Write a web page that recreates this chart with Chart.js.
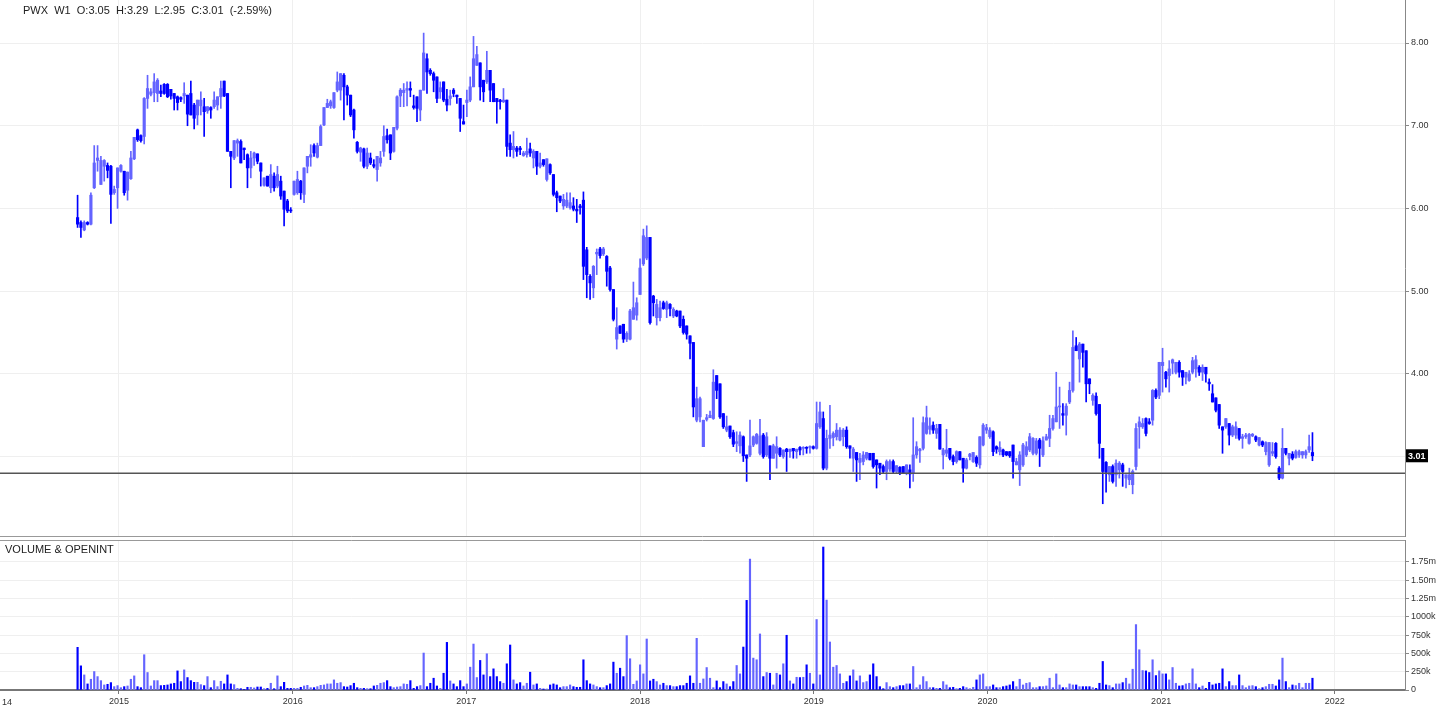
<!DOCTYPE html>
<html>
<head>
<meta charset="utf-8">
<script src="https://cdn.jsdelivr.net/npm/chart.js@4.4.0/dist/chart.umd.min.js"></script>
<style>
    body { margin: 0; background: #fff; }
    #wrap { position: relative; width: 1456px; height: 719px; overflow: hidden; }
    #price_chart { position: absolute; left: 0; top: 0; }
    #volume_chart { position: absolute; left: 0; top: 538px; }
    .pane_label { position: absolute; font: 11px "Liberation Sans", Arial, sans-serif; color: #222; white-space: pre; }
</style>
</head>
<body>
<div id="wrap">
    <canvas id="price_chart" width="1456" height="538"></canvas>
    <canvas id="volume_chart" width="1456" height="181"></canvas>
    <div class="pane_label" id="symbol_line" style="left:23px;top:4px;"></div>
    <div class="pane_label" id="volume_title" style="left:5px;top:543px;"></div>
</div>
<script>
// weekly candles, first bar is the week of 6 Oct 2014
const SYMBOL_LINE = 'PWX  W1  O:3.05  H:3.29  L:2.95  C:3.01  (-2.59%)';
const VOLUME_TITLE = 'VOLUME & OPENINT';
const FIRST_WEEK = '2014-10-06';

const OPEN = [
    5.89,5.83,5.74,5.83,5.81,6.25,6.58,6.29,6.51,6.52, 6.51,6.19,6.25,6.45,6.45,6.22,6.36,6.60,6.95,6.88,
    6.87,7.33,7.38,7.40,7.39,7.42,7.50,7.50,7.44,7.39, 7.35,7.34,7.36,7.37,7.39,7.25,7.13,7.24,7.23,7.18,
    7.22,7.23,7.25,7.35,7.54,7.39,6.69,6.61,6.79,6.81, 6.73,6.65,6.49,6.61,6.66,6.55,6.28,6.39,6.25,6.39,
    6.27,6.33,6.21,6.09,5.98,6.17,6.19,6.33,6.17,6.51, 6.62,6.76,6.62,6.76,7.01,7.22,7.24,7.22,7.43,7.43,
    7.61,7.47,7.37,7.19,6.80,6.68,6.72,6.51,6.61,6.53, 6.47,6.55,6.69,6.88,6.89,6.69,6.97,7.36,7.40,7.43,
    7.45,7.24,7.35,7.19,7.43,7.81,7.67,7.63,7.59,7.41, 7.53,7.32,7.33,7.43,7.37,7.33,7.05,7.28,7.31,7.47,
    7.73,7.76,7.55,7.53,7.67,7.51,7.33,7.31,7.29,7.31, 6.79,6.71,6.73,6.73,6.64,6.65,6.72,6.61,6.69,6.51,
    6.59,6.35,6.53,6.41,6.19,6.15,6.03,6.03,6.01,6.03, 5.99,6.03,6.10,5.50,5.18,5.04,5.45,5.51,5.45,5.42,
    5.28,5.02,4.42,4.58,4.60,4.42,4.42,4.66,4.71,4.96, 5.33,5.40,5.65,4.94,4.68,4.68,4.86,4.78,4.84,4.70,
    4.76,4.76,4.66,4.58,4.46,4.38,3.44,3.48,3.12,3.45, 3.47,3.46,3.98,3.88,3.52,3.32,3.37,3.29,3.16,3.13,
    3.24,3.02,3.02,3.14,3.16,3.04,3.26,3.02,3.13,2.98, 3.04,3.10,3.00,3.09,3.06,3.10,3.06,3.11,3.10,3.11,
    3.11,3.12,3.10,3.36,3.46,2.86,3.22,3.23,3.24,3.20, 3.24,3.32,3.13,2.98,3.05,2.93,2.94,2.98,3.04,3.04,
    2.96,2.92,2.88,2.82,2.85,2.94,2.82,2.87,2.88,2.80, 2.84,2.80,3.02,3.07,3.10,3.28,3.33,3.38,3.28,3.39,
    3.02,3.04,3.10,3.00,2.94,3.06,2.98,2.86,3.00,2.94, 2.99,2.90,3.14,3.32,3.24,3.30,3.12,3.06,3.08,3.06,
    3.06,3.14,2.90,2.84,2.90,3.02,3.08,3.04,3.04,3.20, 3.02,3.20,3.22,3.34,3.42,3.60,3.52,3.50,3.66,3.80,
    4.34,4.18,4.36,4.28,3.94,3.68,3.73,3.63,3.10,2.93, 2.78,2.88,2.78,2.84,2.90,2.74,2.72,2.66,2.88,3.36,
    3.36,3.46,3.42,3.44,3.80,3.74,4.10,4.02,3.98,4.13, 4.02,4.14,4.04,3.96,3.92,4.02,4.06,4.08,4.02,4.08,
    3.90,3.76,3.71,3.63,3.36,3.36,3.40,3.26,3.26,3.34, 3.22,3.24,3.16,3.25,3.24,3.14,3.18,3.06,2.90,3.04,
    3.16,2.86,2.74,3.10,2.98,3.03,2.99,3.02,3.02,3.02, 3.08,3.05
];
const HIGH = [
    6.16,5.85,5.85,5.84,6.19,6.76,6.76,6.63,6.59,6.55, 6.52,6.27,6.49,6.53,6.45,6.44,6.69,6.86,6.96,6.89,
    7.34,7.61,7.45,7.63,7.57,7.49,7.51,7.51,7.44,7.39, 7.36,7.35,7.52,7.37,7.54,7.27,7.31,7.41,7.33,7.23,
    7.23,7.41,7.35,7.54,7.54,7.39,6.69,6.82,6.84,6.83, 6.73,6.66,6.69,6.68,6.66,6.55,6.37,6.39,6.53,6.43,
    6.51,6.39,6.21,6.11,6.01,6.33,6.45,6.34,6.49,6.63, 6.77,6.78,6.79,7.01,7.22,7.32,7.31,7.40,7.65,7.63,
    7.63,7.49,7.37,7.20,6.81,6.74,6.73,6.73,6.67,6.59, 6.63,6.69,7.00,6.96,6.89,6.98,7.36,7.45,7.51,7.53,
    7.53,7.37,7.35,7.43,8.12,7.87,7.69,7.65,7.59,7.53, 7.53,7.44,7.43,7.45,7.37,7.33,7.25,7.43,7.59,8.08,
    7.96,7.76,7.55,7.90,7.67,7.51,7.33,7.32,7.45,7.31, 6.89,6.93,6.75,6.75,6.69,6.85,6.79,6.71,6.69,6.67,
    6.59,6.60,6.54,6.41,6.21,6.15,6.17,6.19,6.19,6.13, 6.11,6.05,6.20,5.53,5.20,5.31,5.51,5.53,5.53,5.43,
    5.30,5.02,4.80,4.58,4.60,4.51,4.78,5.11,4.92,5.39, 5.75,5.79,5.65,4.95,4.90,4.88,4.88,4.88,4.85,4.80,
    4.77,4.76,4.70,4.58,4.46,4.38,3.84,3.72,3.44,3.51, 3.55,4.05,3.98,3.88,3.52,3.49,3.37,3.32,3.30,3.30,
    3.25,3.02,3.44,3.25,3.28,3.45,3.28,3.29,3.13,3.15, 3.24,3.11,3.08,3.10,3.09,3.10,3.09,3.12,3.12,3.12,
    3.13,3.13,3.66,3.66,3.54,3.32,3.62,3.30,3.40,3.35, 3.34,3.36,3.13,3.11,3.05,3.04,3.06,3.05,3.04,3.04,
    2.96,2.92,2.90,2.96,2.96,2.96,2.89,2.88,2.88,2.90, 2.90,3.47,3.18,3.10,3.48,3.61,3.47,3.42,3.39,3.39,
    3.10,3.33,3.10,3.02,3.07,3.06,2.98,2.98,3.04,3.05, 3.01,3.24,3.40,3.39,3.35,3.31,3.13,3.18,3.09,3.06,
    3.06,3.14,2.98,3.06,3.16,3.18,3.28,3.23,3.22,3.22, 3.24,3.27,3.50,3.50,4.02,3.84,3.64,3.64,3.90,4.52,
    4.44,4.38,4.36,4.28,3.94,3.76,3.77,3.63,3.10,2.94, 2.88,2.90,2.96,2.94,2.92,2.78,2.86,2.84,3.40,3.48,
    3.46,3.47,3.46,3.81,3.82,4.14,4.31,4.03,4.16,4.18, 4.14,4.16,4.04,4.02,4.04,4.20,4.22,4.10,4.11,4.08,
    3.94,3.87,3.71,3.63,3.36,3.46,3.40,3.38,3.42,3.34, 3.27,3.28,3.28,3.28,3.25,3.23,3.19,3.18,3.17,3.17,
    3.17,2.88,3.34,3.10,3.04,3.06,3.08,3.08,3.06,3.08, 3.26,3.29
];
const LOW = [
    5.77,5.65,5.73,5.80,5.80,6.24,6.45,6.29,6.33,6.37, 5.82,6.17,6.00,6.44,6.16,6.10,6.35,6.59,6.81,6.80,
    6.78,7.21,7.36,7.29,7.29,7.35,7.38,7.34,7.32,7.19, 7.19,7.29,7.27,7.00,7.13,6.96,7.01,7.13,6.87,7.15,
    7.09,7.21,7.19,7.21,7.35,6.69,6.25,6.59,6.63,6.55, 6.59,6.25,6.37,6.52,6.54,6.27,6.27,6.27,6.19,6.21,
    6.25,6.11,5.79,5.95,5.95,6.16,6.17,6.11,6.07,6.43, 6.51,6.63,6.61,6.76,7.00,7.22,7.21,7.21,7.41,7.31,
    7.07,7.25,7.11,6.85,6.67,6.57,6.49,6.48,6.53,6.49, 6.33,6.51,6.63,6.79,6.59,6.68,6.95,7.23,7.23,7.24,
    7.35,7.20,7.05,7.06,7.43,7.39,7.61,7.41,7.28,7.33, 7.29,7.18,7.25,7.35,7.27,6.93,7.02,7.11,7.29,7.47,
    7.73,7.31,7.29,7.51,7.29,7.29,7.03,7.20,7.28,6.63, 6.63,6.61,6.63,6.65,6.63,6.62,6.63,6.49,6.41,6.49,
    6.51,6.33,6.41,6.15,5.96,6.07,5.99,6.01,5.99,5.97, 5.83,5.93,5.14,4.92,4.90,4.92,5.20,5.40,5.43,5.06,
    5.00,4.64,4.30,4.49,4.38,4.39,4.41,4.66,4.65,4.96, 5.31,5.38,4.60,4.70,4.59,4.64,4.78,4.68,4.70,4.68,
    4.69,4.56,4.48,4.42,4.18,3.48,3.42,3.42,3.12,3.43, 3.47,3.45,3.70,3.46,3.34,3.30,3.22,3.12,3.06,3.04,
    2.94,2.70,3.00,3.12,3.15,3.02,2.98,3.00,2.72,2.98, 2.86,3.00,2.98,2.82,2.99,2.98,2.98,3.02,3.02,3.04,
    3.04,3.09,3.09,3.34,2.84,2.84,3.10,3.13,3.20,3.19, 3.13,3.10,2.98,2.82,2.70,2.72,2.90,2.96,2.96,2.86,
    2.62,2.78,2.80,2.72,2.82,2.80,2.80,2.78,2.80,2.78, 2.62,2.70,2.98,2.93,3.08,3.27,3.27,3.28,3.22,3.09,
    2.85,3.00,2.96,2.90,2.92,2.96,2.69,2.85,2.96,2.93, 2.88,2.86,3.13,3.28,3.22,3.01,3.04,3.02,3.00,3.01,
    2.99,2.74,2.90,2.65,2.88,3.00,3.06,3.02,3.02,2.88, 3.00,3.20,3.12,3.32,3.42,3.34,3.38,3.26,3.64,3.78,
    4.28,3.90,4.08,3.66,3.76,3.62,3.50,2.98,2.43,2.57, 2.70,2.68,2.64,2.74,2.64,2.62,2.66,2.55,2.84,3.10,
    3.34,3.25,3.39,3.38,3.70,3.70,3.78,3.84,3.78,4.00, 4.00,3.96,3.86,3.88,3.91,4.00,3.96,3.98,3.92,3.90,
    3.80,3.66,3.54,3.34,3.04,3.34,3.14,3.24,3.22,3.20, 3.10,3.22,3.15,3.24,3.18,3.13,3.12,3.02,2.88,3.01,
    2.98,2.72,2.73,3.02,2.90,2.96,2.98,2.99,2.98,2.98, 3.05,2.95
];
const CLOSE = [
    5.81,5.77,5.83,5.81,6.16,6.55,6.61,6.58,6.58,6.46, 6.17,6.23,6.49,6.52,6.19,6.44,6.61,6.86,6.83,6.82,
    7.33,7.45,7.41,7.53,7.55,7.39,7.39,7.35,7.36,7.33, 7.28,7.32,7.39,7.14,7.13,7.09,7.31,7.31,7.17,7.23,
    7.19,7.31,7.35,7.45,7.36,6.69,6.63,6.82,6.82,6.55, 6.71,6.49,6.61,6.67,6.57,6.45,6.37,6.27,6.41,6.25,
    6.41,6.15,5.99,5.97,5.97,6.33,6.35,6.19,6.49,6.63, 6.65,6.67,6.76,6.99,7.22,7.27,7.29,7.40,7.53,7.63,
    7.47,7.37,7.13,6.95,6.69,6.73,6.51,6.67,6.55,6.51, 6.63,6.61,6.87,6.83,6.67,6.98,7.35,7.43,7.43,7.45,
    7.43,7.22,7.21,7.43,7.88,7.65,7.63,7.55,7.33,7.46, 7.31,7.25,7.36,7.39,7.35,7.09,7.02,7.31,7.47,7.81,
    7.86,7.47,7.41,7.67,7.43,7.29,7.29,7.29,7.31,6.75, 6.71,6.75,6.69,6.71,6.67,6.69,6.67,6.69,6.51,6.55,
    6.53,6.60,6.43,6.17,6.13,6.09,6.11,6.10,6.07,5.99, 5.97,6.01,5.30,5.20,5.10,5.30,5.47,5.43,5.51,5.24,
    5.02,4.66,4.56,4.49,4.42,4.49,4.76,4.80,4.86,5.28, 5.67,5.65,4.62,4.86,4.84,4.80,4.79,4.86,4.79,4.78,
    4.70,4.58,4.50,4.48,4.37,3.60,3.70,3.70,3.44,3.47, 3.50,3.90,3.80,3.48,3.36,3.36,3.24,3.15,3.18,3.26,
    3.01,2.98,3.13,3.24,3.27,3.25,3.00,3.24,2.98,3.13, 3.12,3.02,3.08,3.06,3.09,3.07,3.09,3.08,3.11,3.10,
    3.12,3.10,3.40,3.54,2.86,3.22,3.26,3.28,3.32,3.32, 3.32,3.12,3.10,3.09,2.96,2.98,3.02,3.05,2.96,2.88,
    2.90,2.86,2.82,2.94,2.94,2.82,2.89,2.80,2.80,2.90, 2.79,3.02,3.12,3.09,3.41,3.47,3.37,3.32,3.34,3.09,
    3.08,3.08,2.98,2.94,3.06,2.96,2.86,2.96,3.03,3.05, 2.92,3.24,3.38,3.35,3.32,3.06,3.09,3.11,3.02,3.02,
    3.01,2.94,2.94,3.02,3.14,3.12,3.24,3.22,3.19,3.10, 3.19,3.24,3.34,3.46,3.60,3.61,3.50,3.61,3.80,4.32,
    4.28,4.36,4.26,3.88,3.88,3.74,3.52,3.16,2.82,2.81, 2.88,2.70,2.92,2.92,2.82,2.78,2.78,2.82,3.34,3.42,
    3.40,3.28,3.40,3.80,3.72,4.14,4.14,3.94,4.06,4.17, 4.14,4.02,3.96,4.02,4.00,4.16,4.17,4.02,4.08,4.00,
    3.88,3.66,3.56,3.38,3.32,3.46,3.26,3.36,3.36,3.22, 3.24,3.26,3.27,3.27,3.20,3.23,3.14,3.17,3.17,3.06,
    3.00,2.74,3.10,3.04,3.04,2.98,3.06,3.06,3.06,3.06, 3.12,3.01
];
// volume in thousands of shares
const VOLUME_K = [
    583,330,206,83,147,252,183,128,69,78, 101,46,60,32,46,55,147,193,46,32,
    482,239,55,128,128,60,64,69,83,92, 261,115,275,170,128,105,105,73,60,183,
    32,128,46,119,83,206,83,73,23,18, 9,37,37,28,41,41,18,23,92,18,
    193,46,105,23,23,23,23,37,55,64, 32,32,46,64,69,83,83,138,92,101,
    46,41,60,92,32,23,23,18,18,55, 64,92,101,128,46,32,41,46,83,78,
    128,23,46,60,505,46,92,161,55,23, 229,651,124,83,46,128,46,83,312,628,
    170,404,206,495,183,289,183,115,92,358, 615,138,83,101,55,92,
    243,69,83,23,14,14,69,83,69,32, 46,46,69,46,37,37,413,128,83,69,
    46,32,32,60,83,381,229,298,183,743, 427,78,124,344,220,697,124,147,115,69,
    92,60,60,46,46,60,60,92,193,92, 706,92,151,307,161,32,124,32,115,83,
    46,115,335,220,587,1225,1789,436,413,766, 183,239,229,69,229,206,358,748,124,83,
    174,170,174,344,229,83,963,206,1954,1229, 656,312,335,220,92,115,193,275,124,193,
    101,115,206,358,183,46,18,101,46,32, 46,60,60,83,83,321,32,69,183,115,
    32,32,23,23,115,69,32,37,18,23, 46,32,18,37,138,206,220,
    46,46,69,32,32,46,55,69,115,46, 147,69,92,101,32,32,46,46,55,161,
    32,220,69,32,32,83,69,69,46,46, 46,46,32,23,92,390,69,60,32,83,
    83,101,161,83,284,894,550,266,261,239, 413,197,261,220,220,138,307,92,55,60,
    83,92,289,83,32,55,23,105,69,83, 92,289,46,115,60,60,206,60,32,55,
    60,46,18,32,46,78,78,55,138,436, 115,32,69,60,92,32,92,92,161
];

const YEARS = [2015, 2016, 2017, 2018, 2019, 2020, 2021, 2022];
const PRICE_TICKS = [3, 4, 5, 6, 7, 8];
const VOLUME_TICKS = [0, 250, 500, 750, 1000, 1250, 1500, 1750];
const VOLUME_TICK_LABELS = ['0', '250k', '500k', '750k', '1000k', '1.25m', '1.50m', '1.75m'];
const SUPPORT_LEVEL = 2.80;
const LAST_PRICE = 3.01;

const FONT = '"Liberation Sans", Arial, sans-serif';
const UP_COLOR = '#6464ff';
const DOWN_COLOR = '#0000ff';
const GRID_COLOR = '#efefef';
const X_MIN = 2014.315;
const X_MAX = 2022.404;

document.getElementById('symbol_line').textContent = SYMBOL_LINE;
document.getElementById('volume_title').textContent = VOLUME_TITLE;

function toYear(date) {
    let y = date.getUTCFullYear();
    let start = Date.UTC(y, 0, 1);
    let end = Date.UTC(y + 1, 0, 1);
    return y + (date.getTime() - start) / (end - start);
}

let firstDay = new Date(FIRST_WEEK + 'T00:00:00Z').getTime();
let weekX = OPEN.map(function (v, i) {
    return toYear(new Date(firstDay + i * 7 * 86400000));
});
let candleColor = OPEN.map(function (o, i) {
    return CLOSE[i] >= o ? UP_COLOR : DOWN_COLOR;
});

// keep the plot flush with the canvas: no room reserved for half labels
function rightAxisFit(scale) {
    scale.width = 51;
    scale.paddingTop = 0;
    scale.paddingBottom = 0;
}

function yearAxis(showLabels) {
    return {
        type: 'linear',
        min: X_MIN,
        max: X_MAX,
        offset: false,
        afterBuildTicks: function (scale) {
            scale.ticks = YEARS.map(function (v) { return { value: v }; });
        },
        afterFit: function (scale) {
            scale.height = showLabels ? 29 : 0;
            scale.paddingLeft = 0;
            scale.paddingRight = 0;
        },
        ticks: {
            display: showLabels,
            autoSkip: false,
            maxRotation: 0,
            padding: 2,
            color: '#333',
            font: { family: FONT, size: 9 },
            callback: function (v) { return String(v); }
        },
        grid: { color: GRID_COLOR, offset: false, drawTicks: showLabels, tickLength: 4, tickColor: '#777' },
        border: { display: showLabels, color: '#777', width: 2 }
    };
}

// candle wicks and bodies are floating bars on the same x
const priceChart = new Chart(document.getElementById('price_chart').getContext('2d'), {
    type: 'bar',
    data: {
        datasets: [{
            data: weekX.map(function (x, i) { return { x: x, y: [LOW[i], HIGH[i]] }; }),
            backgroundColor: candleColor,
            barThickness: 1,
            grouped: false
        }, {
            data: weekX.map(function (x, i) {
                return { x: x, y: [Math.min(OPEN[i], CLOSE[i]), Math.max(OPEN[i], CLOSE[i])] };
            }),
            backgroundColor: candleColor,
            barThickness: 2.5,
            minBarLength: 1,
            grouped: false
        }]
    },
    options: {
        responsive: false,
        animation: false,
        events: [],
        layout: { padding: { top: 0, bottom: 2, left: 0, right: 0 } },
        plugins: { legend: { display: false }, tooltip: { enabled: false } },
        scales: {
            x: yearAxis(false),
            y: {
                position: 'right',
                min: 2.04,
                max: 8.52,
                beginAtZero: false,
                afterBuildTicks: function (scale) {
                    scale.ticks = PRICE_TICKS.map(function (v) { return { value: v }; });
                },
                afterFit: rightAxisFit,
                ticks: {
                    padding: 2,
                    color: '#333',
                    font: { family: FONT, size: 9 },
                    callback: function (v) { return v === 3 ? '' : v.toFixed(2); }
                },
                grid: { color: GRID_COLOR, tickLength: 4, tickColor: '#888' },
                border: { color: '#888', width: 1 }
            }
        }
    },
    plugins: [{
        id: 'price_marks',
        afterDatasetsDraw: function (chart) {
            let ctx = chart.ctx;
            let area = chart.chartArea;
            let y = chart.scales.y.getPixelForValue(SUPPORT_LEVEL);
            ctx.save();
            ctx.strokeStyle = '#555';
            ctx.lineWidth = 1.5;
            ctx.beginPath();
            ctx.moveTo(area.left, y);
            ctx.lineTo(area.right, y);
            ctx.stroke();
            ctx.strokeStyle = '#999';
            ctx.lineWidth = 1;
            ctx.beginPath();
            ctx.moveTo(area.left, area.bottom + 0.5);
            ctx.lineTo(area.right, area.bottom + 0.5);
            ctx.stroke();
            ctx.restore();
        },
        afterDraw: function (chart) {
            let ctx = chart.ctx;
            let y = chart.scales.y.getPixelForValue(LAST_PRICE);
            let x = chart.chartArea.right + 1;
            ctx.save();
            ctx.fillStyle = '#000';
            ctx.fillRect(x, y - 6.5, 22, 13);
            ctx.fillStyle = '#fff';
            ctx.font = 'bold 9px ' + FONT;
            ctx.textBaseline = 'middle';
            ctx.fillText(LAST_PRICE.toFixed(2), x + 2, y + 0.5);
            ctx.restore();
        }
    }]
});

const volumeChart = new Chart(document.getElementById('volume_chart').getContext('2d'), {
    type: 'bar',
    data: {
        datasets: [{
            data: weekX.map(function (x, i) { return { x: x, y: VOLUME_K[i] }; }),
            backgroundColor: candleColor,
            barThickness: 1.5
        }]
    },
    options: {
        responsive: false,
        animation: false,
        events: [],
        layout: { padding: { top: 2, bottom: 0, left: 0, right: 0 } },
        plugins: { legend: { display: false }, tooltip: { enabled: false } },
        scales: {
            x: yearAxis(true),
            y: {
                position: 'right',
                min: 0,
                max: 2050,
                afterBuildTicks: function (scale) {
                    scale.ticks = VOLUME_TICKS.map(function (v) { return { value: v }; });
                },
                afterFit: rightAxisFit,
                ticks: {
                    padding: 2,
                    color: '#333',
                    font: { family: FONT, size: 9 },
                    callback: function (v) { return VOLUME_TICK_LABELS[VOLUME_TICKS.indexOf(v)]; }
                },
                grid: { color: GRID_COLOR, tickLength: 4, tickColor: '#888' },
                border: { color: '#888', width: 1 }
            }
        }
    },
    plugins: [{
        id: 'volume_marks',
        afterDraw: function (chart) {
            let ctx = chart.ctx;
            let area = chart.chartArea;
            ctx.save();
            ctx.strokeStyle = '#999';
            ctx.lineWidth = 1;
            ctx.beginPath();
            ctx.moveTo(area.left, area.top + 0.5);
            ctx.lineTo(area.right, area.top + 0.5);
            ctx.stroke();
            // cut-off label of the year before the first tick
            ctx.fillStyle = '#333';
            ctx.font = '9px ' + FONT;
            ctx.textBaseline = 'middle';
            ctx.fillText('14', 2, area.bottom + 13);
            ctx.restore();
        }
    }]
});
</script>
</body>
</html>
